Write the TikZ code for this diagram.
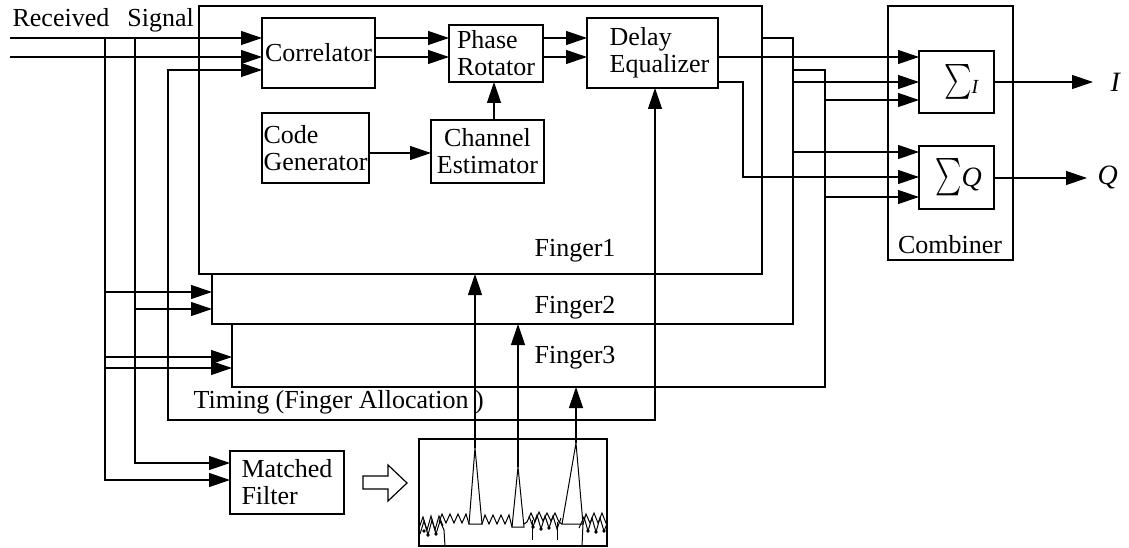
\documentclass[tikz,border=0pt]{standalone}
\usepackage{exscale}
\usepackage{graphicx}
\usepackage{fontspec}
\setmainfont{Liberation Serif}
\usetikzlibrary{arrows.meta}
\newcommand\blkfont{\fontsize{26}{27}\selectfont}
\newcommand\outfont{\fontsize{28}{28}\selectfont}
\begin{document}
\begin{tikzpicture}[x=1pt,y=-1pt,
  line width=1.2pt,
  >={Triangle[length=21pt,width=14pt]},
  blk/.style={draw, fill=white, inner sep=0pt, outer sep=0pt, anchor=north west, align=left, font=\blkfont},
  lab/.style={inner sep=0pt, font=\blkfont},
  noise/.style={line width=1pt, line join=miter},
  dot/.style={fill=black},
]
\useasboundingbox (0,0) rectangle (1129,548);

% ---- rake fingers, back to front ----
\node[blk, minimum width=593pt, minimum height=317pt] (f3) at (232,70) {};
\node[blk, minimum width=581pt, minimum height=286pt] (f2) at (212,38) {};
\node[blk, minimum width=563pt, minimum height=268pt] (f1) at (199,6) {};
\node[blk, minimum width=125pt, minimum height=254pt] (comb) at (888,6) {};

% ---- blocks of finger 1 ----
\node[blk, minimum width=113pt, minimum height=70pt] (corr) at (262,18) {Correlator};
\node[blk, minimum width=94pt, minimum height=57pt] (prot) at (449,25) {Phase\\Rotator};
\node[blk, minimum width=131pt, minimum height=70pt] (deq) at (587,18) {\hspace*{14pt}Delay\\\hspace*{14pt}Equalizer};
\node[blk, minimum width=107pt, minimum height=70pt] (cgen) at (262,113) {Code\\Generator};
\node[blk, align=center, minimum width=113pt, minimum height=63pt] (cest) at (431,120) {Channel\\Estimator};

% ---- combiner ----
\node[blk, minimum width=75pt, minimum height=62pt] (sumI) at (919,51)
  {\hspace*{10pt}{\fontsize{27}{27}\selectfont\scalebox{1.05}[1.4]{$\textstyle\sum$}}\raisebox{-3pt}{\fontsize{20}{20}\selectfont\textit{I}}};
\node[blk, minimum width=75pt, minimum height=63pt] (sumQ) at (919,146)
  {\hspace*{4pt}{\fontsize{30}{30}\selectfont\scalebox{1}[1.5]{$\textstyle\sum$}}{\fontsize{28}{28}\selectfont\textit{Q}}};

% ---- matched filter and its output ----
\node[blk, minimum width=114pt, minimum height=63pt] (mf) at (230,451) {Matched\\Filter};
\node[blk, minimum width=188pt, minimum height=107pt] (spec) at (419,439) {};
\draw[fill=white] (363,476) -- (388,476) -- (388,465) -- (407,483) -- (388,501) -- (388,489) -- (363,489) -- cycle;

% ---- texts ----
\node[lab, anchor=base west] (rs) at (12,27) {Received\hspace{18pt}Signal};
\node[lab, anchor=base] (lf1) at (575,256) {Finger1};
\node[lab, anchor=base] (lf2) at (575,313) {Finger2};
\node[lab, anchor=base] (lf3) at (575,363) {Finger3};
\node[lab, anchor=base west] (ltm) at (193,408) {Timing (Finger Allocation )};
\node[lab, anchor=base] (lcb) at (950,253) {Combiner};
\node[inner sep=0pt, font=\outfont, anchor=west] (oI) at (1110,82) {\textit{I}};
\node[inner sep=0pt, font=\outfont, anchor=west] (oQ) at (1097,178) {\textit{Q}};

% ---- received signal and its taps ----
\coordinate (in1) at (10,38);
\coordinate (in2) at (10,57);
\coordinate (va) at (105,38);
\coordinate (vb) at (135,38);
\draw[->] (in1) -- (corr.west |- in1);
\draw[->] (in2) -- (corr.west |- in2);
\draw[->] (va) |- (mf.west |- 0,480);
\draw[->] (vb) |- (mf.west |- 0,463);
\draw[->] (va |- 0,292) -- (f2.west |- 0,292);
\draw[->] (vb |- 0,309) -- (f2.west |- 0,309);
\draw[->] (va |- 0,357) -- (f3.west |- 0,357);
\draw[->] (va |- 0,368) -- (f3.west |- 0,368);

% ---- timing loop ----
\coordinate (tm1) at (168,70);
\coordinate (tm2) at (655,420);
\draw[<->] (corr.west |- tm1) -- (tm1) |- (tm2) -- (tm2 |- deq.south);

% ---- inside finger 1 ----
\draw[->] (corr.east |- 0,38) -- (prot.west |- 0,38);
\draw[->] (corr.east |- 0,57) -- (prot.west |- 0,57);
\draw[->] (prot.east |- 0,38) -- (deq.west |- 0,38);
\draw[->] (prot.east |- 0,57) -- (deq.west |- 0,57);
\draw[->] (cgen.east |- 0,153) -- (cest.west |- 0,153);
\draw[->] (cest.north -| 494,0) -- (prot.south -| 494,0);

% ---- finger outputs to the combiner ----
\draw[->] (deq.east |- 0,57) -- (sumI.west |- 0,57);
\draw[->] (deq.east |- 0,82) -| (743,177) -- (sumQ.west |- 0,177);
\draw[->] (f2.east |- 0,82) -- (sumI.west |- 0,82);
\draw[->] (f3.east |- 0,100) -- (sumI.west |- 0,100);
\draw[->] (f2.east |- 0,152) -- (sumQ.west |- 0,152);
\draw[->] (f3.east |- 0,197) -- (sumQ.west |- 0,197);
\draw[->, shorten >=17pt] (sumI.east |- oI.west) -- (oI.west);
\draw[->, shorten >=10pt] (sumQ.east |- oQ.west) -- (oQ.west);

% ---- matched filter output: peaks in noise ----
\coordinate (pk1) at (475,448);
\coordinate (pk2) at (518,467);
\coordinate (pk3) at (576,443);
\begin{scope}
  \clip (spec.south west) rectangle (spec.north east);
  \draw[noise] (469,524) -- (pk1) -- (482,524) -- cycle;
  \draw[noise] (512,527) -- (pk2) -- (524,527) -- cycle;
  \draw[noise] (562,524) -- (pk3) -- (583,524) -- cycle;
  \draw[noise] (419,528) -- (423,517) -- (427,530) -- (431,516) -- (435,530) -- (439,516) -- (443,526);
  \draw[noise] (420,534) -- (424,521) -- (428,535) -- (432,520) -- (436,534) -- (440,521) -- (444,530) -- (445,546);
  \draw[noise] (439,522) -- (442,514) -- (446,523) -- (450,514) -- (454,523) -- (458,514) -- (462,523) -- (466,514) -- (469,524);
  \draw[noise] (482,524) -- (485,515) -- (489,524) -- (493,515) -- (497,524) -- (501,515) -- (505,524) -- (509,515) -- (512,527);
  \draw[noise] (524,524) -- (527,522) -- (531,513) -- (535,522) -- (539,512) -- (543,521) -- (547,513) -- (551,521) -- (555,513) -- (559,522) -- (562,524);
  \draw[noise] (529,516) -- (533,527) -- (537,515) -- (541,529) -- (545,516) -- (549,528) -- (553,516) -- (557,529) -- (561,518);
  \draw[noise] (532,520) -- (532,540);
  \draw[noise] (557,522) -- (557,540);
  \draw[noise] (583,524) -- (586,514) -- (590,523) -- (594,513) -- (598,523) -- (602,513) -- (606,523) -- (609,516);
  \draw[noise] (579,528) -- (584,517) -- (588,531) -- (592,518) -- (596,532) -- (600,518) -- (604,531) -- (609,519);
  \draw[noise] (583,524) -- (582,546);
  \foreach \p in {(428,535),(436,534),(424,531),(541,529),(549,528),(533,527),(588,531),(596,532),(604,531)}
    \fill[dot] \p circle (1.8pt);
\end{scope}

% ---- arrows from the peaks to the fingers ----
\draw[->] (pk1) -- (pk1 |- f1.south);
\draw[->] (pk2) -- (pk2 |- f2.south);
\draw[->] (pk3) -- (pk3 |- f3.south);
\end{tikzpicture}
\end{document}
